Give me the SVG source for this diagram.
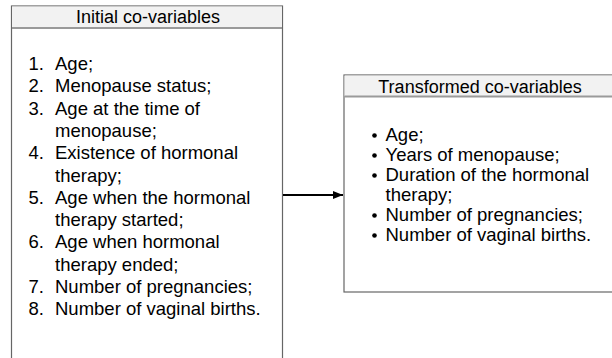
<svg xmlns="http://www.w3.org/2000/svg" width="612" height="358" viewBox="0 0 612 358">
<style>
.box{fill:#fff;stroke:#666;stroke-width:1.2}
.hdr{fill:#f2f2f2}
.sep{stroke:#9a9a9a;stroke-width:2}
text{font-family:"Liberation Sans",Arial,sans-serif;fill:#000}
.t{font-size:18px}
.l{font-size:18.5px}
</style>
<defs>
<marker id="ah" viewBox="0 0 10 8" refX="10" refY="4" markerWidth="10" markerHeight="8" markerUnits="userSpaceOnUse" orient="auto">
<path d="M0,0 L10,4 L0,8 z" fill="#000"/>
</marker>
</defs>
<g id="initial">
<rect class="box" x="11.5" y="6" width="271" height="360"/>
<rect class="hdr" x="12" y="6.5" width="270" height="21"/>
<line class="sep" x1="12" y1="28" x2="282" y2="28"/>
<text class="t" x="148" y="23" text-anchor="middle">Initial co-variables</text>
<g class="l">
<text x="44" y="70" text-anchor="end">1.</text><text x="55" y="70">Age;</text>
<text x="44" y="92.3" text-anchor="end">2.</text><text x="55" y="92.3">Menopause status;</text>
<text x="44" y="114.6" text-anchor="end">3.</text><text x="55" y="114.6">Age at the time of</text>
<text x="55" y="136.9">menopause;</text>
<text x="44" y="159.2" text-anchor="end">4.</text><text x="55" y="159.2">Existence of hormonal</text>
<text x="55" y="181.5">therapy;</text>
<text x="44" y="203.8" text-anchor="end">5.</text><text x="55" y="203.8">Age when the hormonal</text>
<text x="55" y="226.1">therapy started;</text>
<text x="44" y="248.4" text-anchor="end">6.</text><text x="55" y="248.4">Age when hormonal</text>
<text x="55" y="270.7">therapy ended;</text>
<text x="44" y="293" text-anchor="end">7.</text><text x="55" y="293">Number of pregnancies;</text>
<text x="44" y="315.3" text-anchor="end">8.</text><text x="55" y="315.3">Number of vaginal births.</text>
</g>
</g>
<g id="transformed">
<rect class="box" x="344" y="75" width="280" height="217"/>
<rect class="hdr" x="344.5" y="75.5" width="270" height="20.5"/>
<line class="sep" x1="344.5" y1="96.5" x2="612" y2="96.5"/>
<text class="t" x="480" y="92.5" text-anchor="middle">Transformed co-variables</text>
<g class="l">
<circle cx="374.5" cy="135.5" r="2.3"/><text x="385.5" y="141">Age;</text>
<circle cx="374.5" cy="155.5" r="2.3"/><text x="385.5" y="161">Years of menopause;</text>
<circle cx="374.5" cy="175.5" r="2.3"/><text x="385.5" y="181">Duration of the hormonal</text>
<text x="385.5" y="201">therapy;</text>
<circle cx="374.5" cy="215.5" r="2.3"/><text x="385.5" y="221">Number of pregnancies;</text>
<circle cx="374.5" cy="235.5" r="2.3"/><text x="385.5" y="241">Number of vaginal births.</text>
</g>
</g>
<g id="connectors">
<line x1="283" y1="195" x2="343" y2="195" stroke="#000" stroke-width="2" marker-end="url(#ah)"/>
</g>
</svg>
